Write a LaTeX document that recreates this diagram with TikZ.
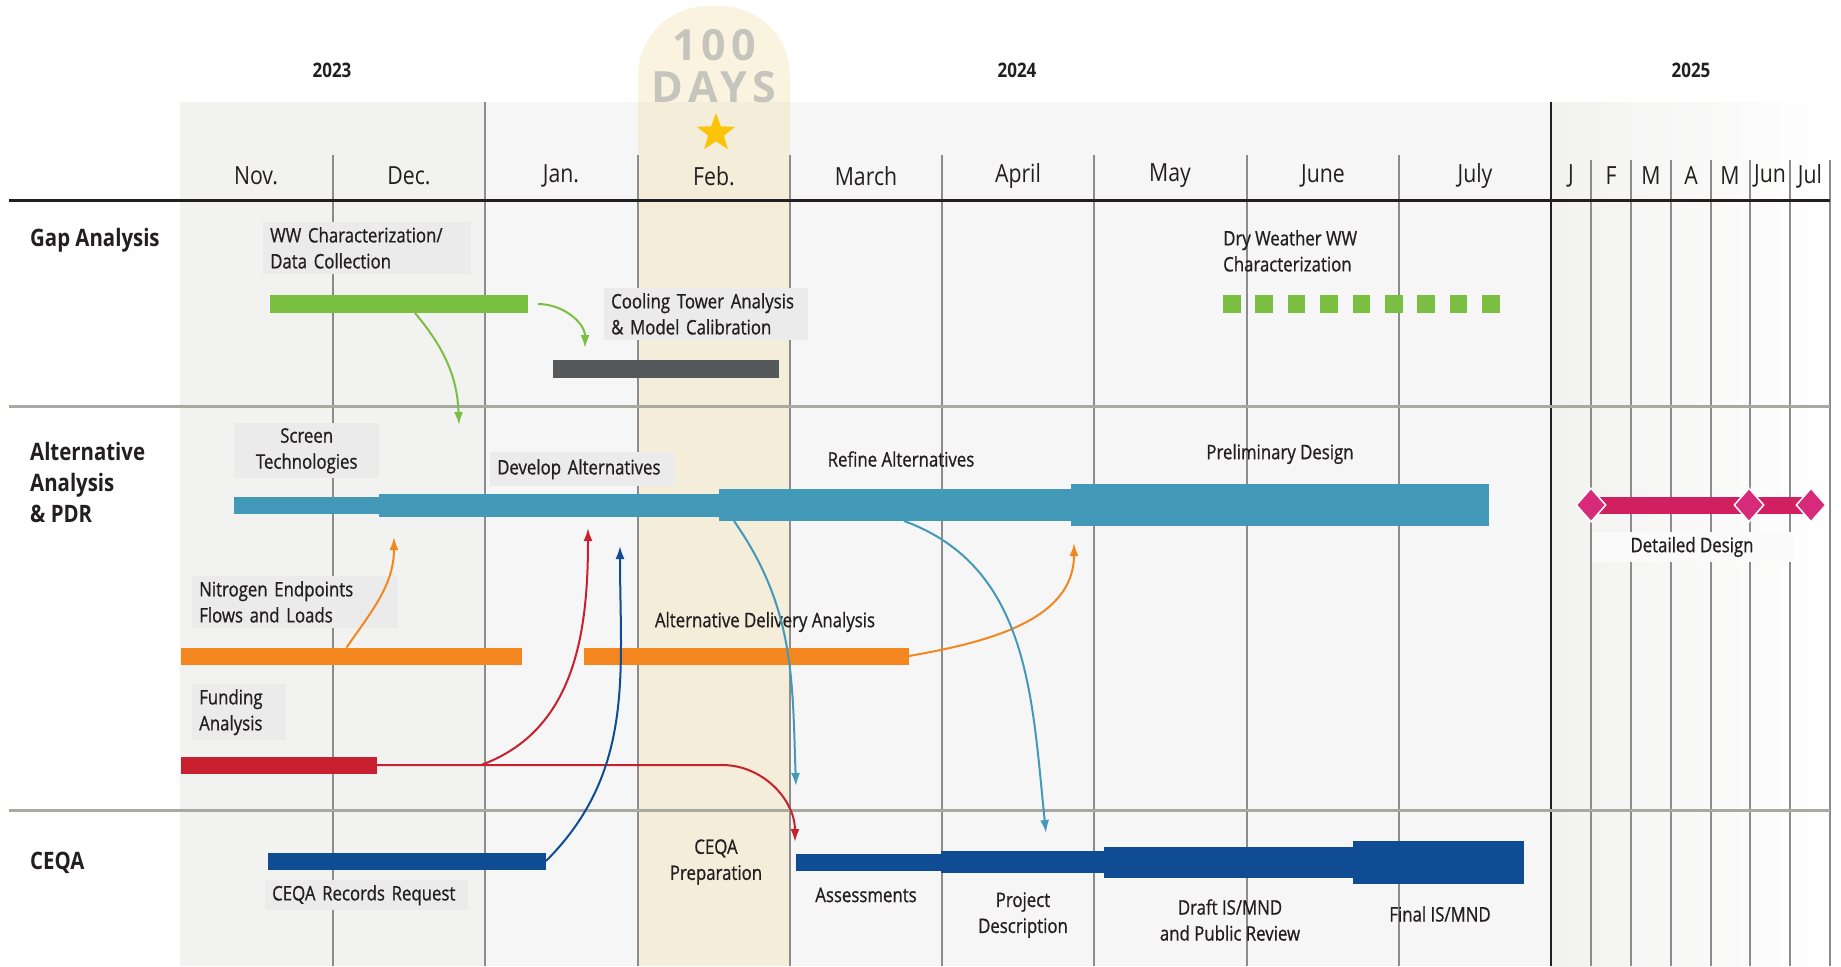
\documentclass[tikz,border=0pt]{standalone}
\usepackage{fontspec}
\setmainfont{Open Sans}[FakeStretch=0.85]
\newfontfamily\daysfont{Open Sans}[LetterSpace=12]
\newfontfamily\tagfamily{Open Sans}[FakeStretch=0.84,FakeBold=0.8]
\usetikzlibrary{arrows.meta,shapes.geometric,positioning}

\definecolor{ink}{HTML}{231F20}
\definecolor{panel}{HTML}{F2F2F1}
\definecolor{panelb}{HTML}{F6F6F6}
\definecolor{gridcol}{HTML}{8C8C8C}
\definecolor{rulecol}{HTML}{A8AAA2}
\definecolor{daycol}{HTML}{F2DFA8}
\definecolor{daytext}{HTML}{C5C5BD}
\definecolor{starcol}{HTML}{FCC30B}
\definecolor{tagbg}{HTML}{EBEBEB}
\definecolor{ddbg}{HTML}{FAFAFA}
\definecolor{gapgreen}{HTML}{7BBF42}
\definecolor{coolgray}{HTML}{55595C}
\definecolor{altteal}{HTML}{4399B8}
\definecolor{nitorange}{HTML}{F4861F}
\definecolor{fundred}{HTML}{C8202F}
\definecolor{ceqablue}{HTML}{0F4C93}
\definecolor{ddrose}{HTML}{D0205F}
\definecolor{ddpink}{HTML}{D72A7A}

\newcommand{\tagfont}{\tagfamily\fontsize{20}{26}\selectfont\hyphenpenalty=10000}
\newcommand{\monthfont}{\fontsize{25}{28}\selectfont}
\newcommand{\yearfont}{\fontsize{20}{24}\selectfont\bfseries}
\newcommand{\phasefont}{\fontsize{24}{31}\selectfont\bfseries}

\begin{document}
\begin{tikzpicture}[x=1pt,y=-1pt]
\tikzstyle{bar}=[rectangle,inner sep=0pt,outer sep=0pt,anchor=west]
\tikzstyle{tag}=[fill=tagbg,text=ink,font=\tagfont,inner xsep=7pt,inner ysep=5pt,align=left,anchor=north west]
\tikzstyle{note}=[text=ink,font=\tagfont,inner sep=0pt,align=center]
\tikzstyle{month}=[text=ink,font=\monthfont,inner sep=0pt]
\tikzstyle{yr}=[text=ink,font=\yearfont,inner sep=0pt]
\tikzstyle{phase}=[text=ink,font=\phasefont,inner sep=0pt,align=left,anchor=west]
\tikzstyle{link}=[line width=2pt,-{Latex[length=13pt,width=9pt]}]
\tikzstyle{gridline}=[draw=gridcol,line width=1.2pt]
\tikzstyle{milestone}=[diamond,fill=ddpink,draw=white,line width=1.5pt,minimum width=30pt,minimum height=34pt,inner sep=0pt]

\useasboundingbox (0,0) rectangle (1841,966);
\fill[white] (0,0) rectangle (1841,966);

% background panels
\fill[panel] (180,102) rectangle (485,966);
\fill[panelb] (485,102) rectangle (1551,966);
\shade[left color=panel,right color=white] (1551,102) rectangle (1836,966);

% 100 days column
\fill[daycol,opacity=.35,rounded corners=70pt] (638,966) -- (638,6) -- (790,6) -- (790,966);

% month grid
\foreach \gx in {333,638,790,942,1094,1247,1399}
  \draw[gridline] (\gx,155) -- (\gx,966);
\draw[gridline] (485,102) -- (485,966);
\draw[ink,line width=1.2pt] (1551,102) -- (1551,966);
\foreach \gx in {1591,1631,1671,1711,1750,1790,1830}
  \draw[gridline] (\gx,160) -- (\gx,966);

% rules
\draw[ink,line width=3pt] (9,200) -- (1830,200);
\draw[rulecol,line width=3pt] (9,406) -- (1830,406);
\draw[rulecol,line width=3pt] (9,810) -- (1830,810);

% header
\node[font={\daysfont\bfseries\fontsize{43}{43}\selectfont},text=daytext,inner sep=0pt] (hundred) at (714,45) {100};
\node[font={\daysfont\bfseries\fontsize{43}{43}\selectfont},text=daytext,inner sep=0pt] (days) at (714,87) {DAYS};
\node[star,star points=5,star point ratio=2.4,fill=starcol,minimum size=40pt,inner sep=0pt] (star) at (716,133) {};

\node[yr] (y2023) at (332,70) {2023};
\node[yr] (y2024) at (1017,70) {2024};
\node[yr] (y2025) at (1691,70) {2025};

\foreach \mx/\mname [count=\i] in {256/Nov.,409/Dec.,561/Jan.,714/Feb.,866/March,1018/April,1170/May,1323/June,1475/July}
  \node[month] (mon\i) at (\mx,176) {\mname};
\foreach \mx/\mname [count=\i] in {1571/J,1611/F,1651/M,1691/A,1730/M,1770/Jun,1810/Jul}
  \node[month] (nxt\i) at (\mx,176) {\mname};

% phases
\node[phase] (gaplbl) at (30,240) {Gap Analysis};
\node[phase] (altlbl) at (30,482) {Alternative\\Analysis\\\& PDR};
\node[phase] (ceqalbl) at (30,863) {CEQA};

% gap analysis
\node[tag,text width=194pt] (wwlbl) at (263,222) {WW Characterization/\\Data Collection};
\node[bar,fill=gapgreen,minimum width=258pt,minimum height=18pt] (wwbar) at (270,304) {};
\node[tag,text width=190pt] (coollbl) at (604,288) {Cooling Tower Analysis\\\& Model Calibration};
\node[bar,fill=coolgray,minimum width=226pt,minimum height=18pt] (coolbar) at (553,369) {};
\node[note,align=left,anchor=north west] (drylbl) at (1223,230) {Dry Weather WW\\Characterization};
\foreach \i in {0,...,8}
  \node[bar,fill=gapgreen,minimum width=17.6pt,minimum height=18pt] (dry\i) at ({1223+32.4*\i},304) {};

% alternative analysis & PDR
\node[tag,align=center,text width=131pt] (scrlbl) at (234,423) {Screen\\Technologies};
\node[tag,text width=171pt,inner ysep=7pt] (devlbl) at (490,452) {Develop Alternatives};
\node[note] (reflbl) at (901,459) {Refine Alternatives};
\node[note] (pdrlbl) at (1280,454) {Preliminary Design};
\node[bar,fill=altteal,minimum width=145pt,minimum height=17pt] (scrbar) at (234,505) {};
\node[bar,fill=altteal,minimum width=340pt,minimum height=23pt] (devbar) at (379,505) {};
\node[bar,fill=altteal,minimum width=352pt,minimum height=32pt] (refbar) at (719,505) {};
\node[bar,fill=altteal,minimum width=418pt,minimum height=42pt] (pdrbar) at (1071,505) {};

\node[bar,fill=ddrose,minimum width=220pt,minimum height=17pt] (ddbar) at (1591,505) {};
\node[milestone] (dd1) at (1591,505) {};
\node[milestone] (dd2) at (1749,505) {};
\node[milestone] (dd3) at (1811,505) {};
\node[note,fill=ddbg,minimum width=201pt,minimum height=30pt] (ddlbl) at (1692,547) {Detailed Design};

\node[tag,text width=192pt] (nitlbl) at (192,576) {Nitrogen Endpoints\\Flows and Loads};
\node[bar,fill=nitorange,minimum width=341pt,minimum height=17pt] (nitbar) at (181,656) {};
\node[note] (adlbl) at (765,622) {Alternative Delivery Analysis};
\node[bar,fill=nitorange,minimum width=325pt,minimum height=17pt] (adbar) at (584,656) {};

\node[tag,text width=80pt] (fundlbl) at (192,684) {Funding\\Analysis};
\node[bar,fill=fundred,minimum width=196pt,minimum height=17pt] (fundbar) at (181,765) {};

% CEQA
\node[bar,fill=ceqablue,minimum width=278pt,minimum height=17pt] (recbar) at (268,861) {};
\node[tag,text width=189pt] (reclbl) at (265,880) {CEQA Records Request};
\node[note] (preplbl) at (716,862) {CEQA\\Preparation};
\node[bar,fill=ceqablue,minimum width=145pt,minimum height=17pt] (asbar) at (796,862) {};
\node[bar,fill=ceqablue,minimum width=163pt,minimum height=22pt] (pdbar) at (941,862) {};
\node[bar,fill=ceqablue,minimum width=249pt,minimum height=31pt] (drbar) at (1104,862) {};
\node[bar,fill=ceqablue,minimum width=171pt,minimum height=43pt] (fnbar) at (1353,862) {};
\node[note] (aslbl) at (866,895) {Assessments};
\node[note] (pdlbl) at (1023,915) {Project\\Description};
\node[note] (drlbl) at (1230,920) {Draft IS/MND\\and Public Review};
\node[note] (fnlbl) at (1440,914) {Final IS/MND};

% dependencies
\coordinate (scrtip) at (459,425);
\coordinate (cooltip) at (585,348);
\coordinate (nittip) at (394,537);
\coordinate (adtip) at (1074,543);
\coordinate (fundtip) at (588,528);
\coordinate (rectip) at (620,546);
\coordinate (prepcorner) at (722,765);
\coordinate (preptip) at (795,842);
\coordinate (astip) at (796,786);
\coordinate (pdtip) at (1046,833);

\draw[link,gapgreen] ([xshift=16pt]wwbar.south) to[out=-50,in=92] (scrtip);
\draw[link,gapgreen] ([xshift=10pt]wwbar.east) to[out=0,in=90] (cooltip);
\draw[link,nitorange] ([xshift=-5pt]nitbar.north) to[out=55,in=-90] (nittip);
\draw[link,nitorange] (adbar.east) to[out=10,in=-90] (adtip);
\draw[link,fundred] (fundbar.east) -- (prepcorner) to[out=0,in=90] (preptip);
\draw[link,fundred] ([xshift=104pt]fundbar.east) to[out=20,in=-90] (fundtip);
\draw[link,ceqablue] (recbar.east) to[out=45,in=-90] (rectip);
\draw[link,altteal] ([xshift=15pt]refbar.south west) to[out=-55,in=92] (astip);
\draw[link,altteal] ([xshift=9pt]refbar.south) to[out=-20,in=96] (pdtip);
\end{tikzpicture}
\end{document}
